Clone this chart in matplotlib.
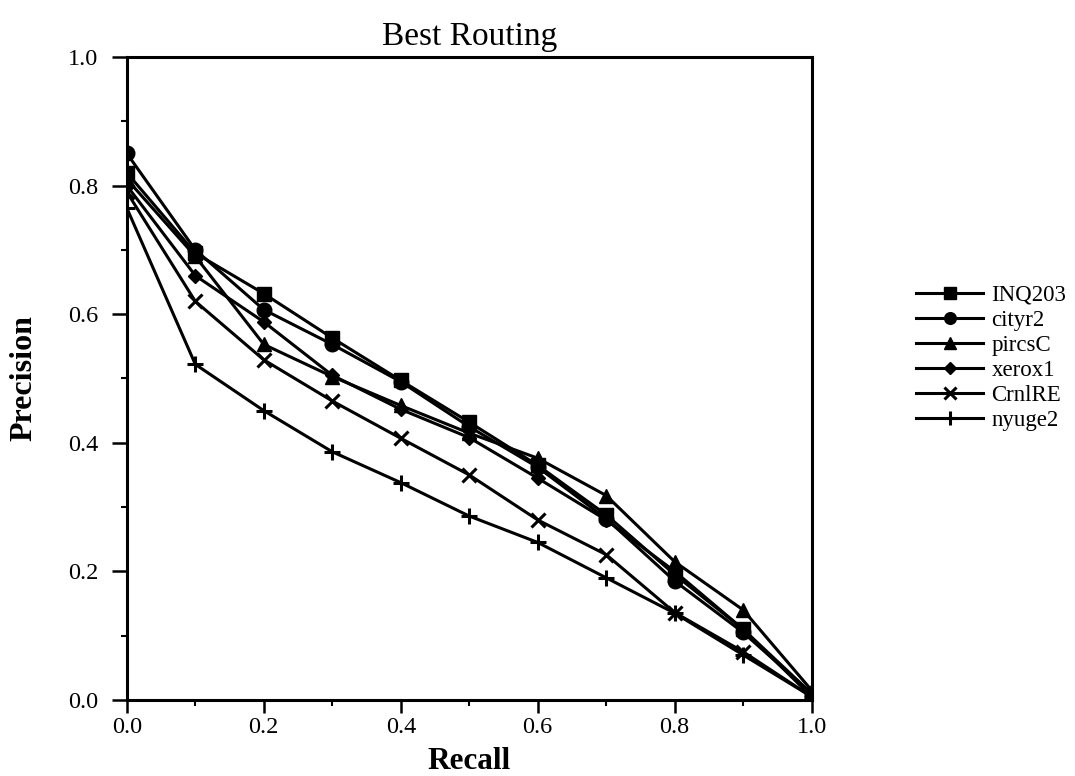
import matplotlib
matplotlib.use("Agg")
import matplotlib.pyplot as plt
from matplotlib.ticker import MultipleLocator

recall = [0.0, 0.1, 0.2, 0.3, 0.4, 0.5, 0.6, 0.7, 0.8, 0.9, 1.0]
inq203 = [0.82, 0.695, 0.632, 0.563, 0.497, 0.432, 0.365, 0.288, 0.195, 0.11, 0.01]
cityr2 = [0.85, 0.70, 0.607, 0.553, 0.495, 0.425, 0.362, 0.282, 0.185, 0.105, 0.01]
pircsC = [0.81, 0.69, 0.553, 0.503, 0.458, 0.415, 0.376, 0.318, 0.215, 0.14, 0.015]
xerox1 = [0.80, 0.66, 0.588, 0.505, 0.452, 0.408, 0.345, 0.28, 0.20, 0.11, 0.005]
crnlre = [0.79, 0.62, 0.529, 0.465, 0.407, 0.35, 0.28, 0.226, 0.136, 0.075, 0.005]
nyuge2 = [0.765, 0.522, 0.45, 0.386, 0.338, 0.286, 0.245, 0.19, 0.135, 0.07, 0.005]

series = [("INQ203", inq203, "s", 10), ("cityr2", cityr2, "o", 10.5),
          ("pircsC", pircsC, "^", 10), ("xerox1", xerox1, "D", 7.5),
          ("CrnlRE", crnlre, "x", 10), ("nyuge2", nyuge2, "+", 12)]

plt.rcParams['font.family'] = ['Liberation Serif', 'DejaVu Serif']
fig = plt.figure(figsize=(10.75, 7.76), dpi=100)
ax = fig.add_axes([0.118, 0.098, 0.637, 0.8285])
for name, vals, m, ms in series:
    ax.plot(recall, vals, color='black', lw=2.2, marker=m, markersize=ms,
            markeredgewidth=2.2 if m in ('x', '+') else 1, label=name)
ax.set_xlim(0, 1)
ax.set_ylim(0, 1)
ax.xaxis.set_major_locator(MultipleLocator(0.2))
ax.yaxis.set_major_locator(MultipleLocator(0.2))
ax.xaxis.set_minor_locator(MultipleLocator(0.1))
ax.yaxis.set_minor_locator(MultipleLocator(0.1))
ax.set_xticklabels([f"{v:.1f}" for v in ax.get_xticks()])
ax.set_yticklabels([f"{v:.1f}" for v in ax.get_yticks()])
ax.tick_params(axis='x', which='major', labelsize=17.5, direction='out', length=9, width=1.8, pad=3)
ax.tick_params(axis='y', which='major', labelsize=17.5, direction='out', length=10.5, width=1.8, pad=10)
ax.tick_params(axis='both', which='minor', direction='out', length=4, width=1.5)
for s in ax.spines.values():
    s.set_linewidth(2.2)
ax.set_title("Best Routing", fontsize=24, pad=9)
ax.set_xlabel("Recall", fontsize=22.5, fontweight='bold')
ax.set_ylabel("Precision", fontsize=23, fontweight='bold')
ax.yaxis.set_label_coords(-0.129, 0.5)
ax.xaxis.set_label_coords(0.5, -0.073)
ax.legend(loc='center left', bbox_to_anchor=(1.152, 0.532), frameon=False,
          fontsize=16.5, handlelength=2.95, labelspacing=0.18, handletextpad=0.35,
          borderpad=0, borderaxespad=0, markerscale=0.8)
fig.savefig("out.png", dpi=100)
